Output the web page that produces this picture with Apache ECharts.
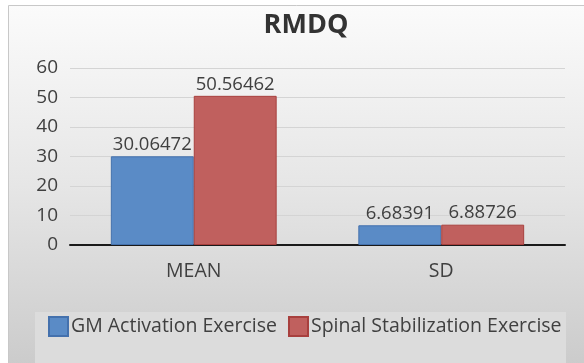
<!DOCTYPE html>
<html><head><meta charset="utf-8">
<script src="https://cdn.jsdelivr.net/npm/echarts@6/dist/echarts.min.js"></script>
<style>html,body{margin:0;padding:0;background:#fff}#c{width:584px;height:363px}</style>
</head><body><div id="c"></div>
<script>
var categories = ['MEAN', 'SD'];
var gmValues = [30.06472, 6.68391];
var ssValues = [50.56462, 6.88726];
var seriesNames = ['GM Activation Exercise', 'Spinal Stabilization Exercise'];
var yTicks = [0, 10, 20, 30, 40, 50, 60];

var chart = echarts.init(document.getElementById('c'));
var font = 'Open Sans';
chart.setOption({
  animation: false,
  backgroundColor: '#ffffff',
  graphic: [
    {type: 'rect', z: -10, shape: {x: 8.5, y: 5.5, width: 580, height: 360},
     style: {fill: new echarts.graphic.LinearGradient(0, 0, 0, 1, [
       {offset: 0, color: '#fbfbfb'}, {offset: 0.5, color: '#e6e6e6'}, {offset: 1, color: '#cbcbcb'}]),
       stroke: '#c8c8c8', lineWidth: 1}},
    {type: 'rect', z: -9, shape: {x: 35, y: 312, width: 531, height: 60},
     style: {fill: '#dcdcdc'}}
  ],
  title: {text: 'RMDQ', left: 301, top: 7, textAlign: 'center',
    textStyle: {fontFamily: font, fontSize: 27, fontWeight: 'bold', color: '#333'}},
  legend: {left: 43, top: 311, itemWidth: 19, itemHeight: 19, itemGap: 11, icon: 'rect',
    textStyle: {fontFamily: font, fontSize: 19.5, color: '#404040', padding: [0, 0, 0, -2]},
    data: seriesNames},
  grid: {left: 70, right: 19, top: 68, bottom: 118},
  xAxis: {type: 'category', data: categories,
    axisLine: {lineStyle: {color: '#1a1a1a', width: 2}},
    axisTick: {show: false},
    axisLabel: {fontFamily: font, fontSize: 19.5, color: '#404040', margin: 16}},
  yAxis: {type: 'value', min: 0, max: 60, interval: 10,
    axisLine: {show: false}, axisTick: {show: false},
    splitLine: {lineStyle: {color: '#d4d4d4', width: 1}},
    axisLabel: {fontFamily: font, fontSize: 19, color: '#404040', margin: 12,
      formatter: function (v) { return yTicks.indexOf(v) >= 0 ? String(v) : ''; }}},
  series: [
    {name: seriesNames[0], type: 'bar', data: gmValues, barGap: '0%', barCategoryGap: '33%',
     itemStyle: {color: '#5a8bc6', borderColor: '#4471ad', borderWidth: 1},
     label: {show: true, position: 'top', distance: 2, fontFamily: font, fontSize: 18.5, color: '#404040'}},
    {name: seriesNames[1], type: 'bar', data: ssValues,
     itemStyle: {color: '#c0605e', borderColor: '#a8403e', borderWidth: 1},
     label: {show: true, position: 'top', distance: 2, fontFamily: font, fontSize: 18.5, color: '#404040'}}
  ]
});
</script></body></html>
